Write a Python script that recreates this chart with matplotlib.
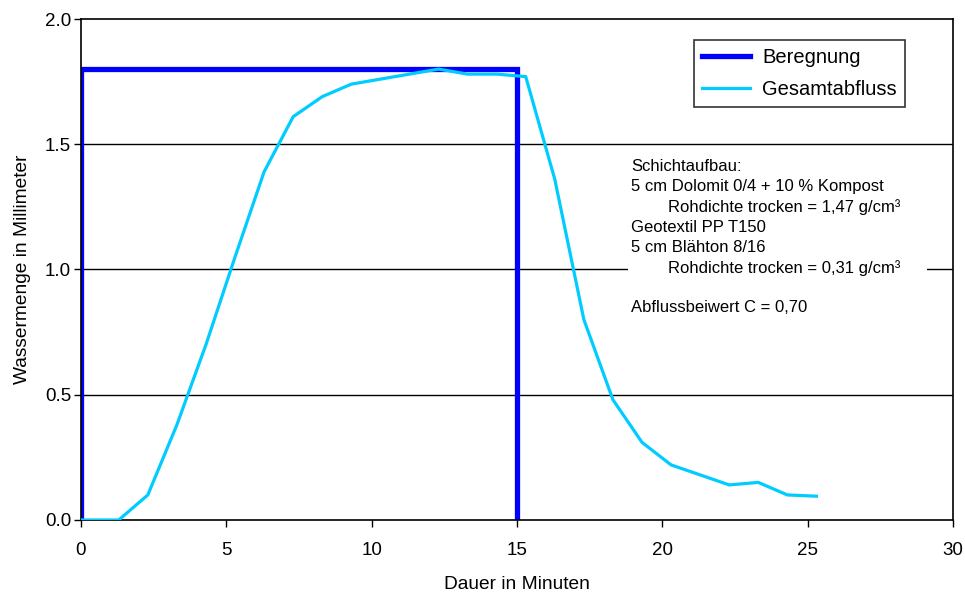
import matplotlib.pyplot as plt

plt.rcParams['font.family'] = ['Liberation Sans', 'DejaVu Sans']

# Beregnung (rain input), rectangular block
regen_t = [0, 0, 15, 15]
regen_mm = [0, 1.8, 1.8, 0]

# Gesamtabfluss (total runoff)
abfluss_t = [0, 1.3, 2.3, 3.3, 4.3, 5.3, 6.3, 7.3, 8.3, 9.3, 10.3, 11.3, 12.3,
             13.3, 14.3, 15.3, 16.3, 17.3, 18.3, 19.3, 20.3, 21.3, 22.3, 23.3,
             24.3, 25.3]
abfluss_mm = [0.0, 0.0, 0.10, 0.38, 0.70, 1.05, 1.39, 1.61, 1.69, 1.74, 1.76,
              1.78, 1.80, 1.78, 1.78, 1.77, 1.36, 0.80, 0.48, 0.31, 0.22, 0.18,
              0.14, 0.15, 0.10, 0.095]

info = ("Schichtaufbau:\n"
        "5 cm Dolomit 0/4 + 10 % Kompost\n"
        "        Rohdichte trocken = 1,47 g/cm³\n"
        "Geotextil PP T150\n"
        "5 cm Blähton 8/16\n"
        "        Rohdichte trocken = 0,31 g/cm³     \n"
        "\n"
        "Abflussbeiwert C = 0,70")

fs = 13.5

fig = plt.figure(figsize=(9.65, 5.94), dpi=100)
ax = fig.add_axes([0.0839, 0.1246, 0.9037, 0.8434])

for yv in [0.5, 1.0, 1.5]:
    ax.axhline(yv, color='black', lw=1.0, zorder=1)

ax.plot(abfluss_t, abfluss_mm, color='#00CCFF', lw=2.3, label='Gesamtabfluss',
        zorder=3, solid_joinstyle='miter')
ax.plot(regen_t, regen_mm, color='#0000FF', lw=3.8, label='Beregnung', zorder=2,
        solid_joinstyle='miter')

ax.set_xlim(0, 30)
ax.set_ylim(0, 2.0)
ax.set_xticks(range(0, 31, 5))
ax.set_yticks([0, 0.5, 1.0, 1.5, 2.0])
ax.set_yticklabels(['0.0', '0.5', '1.0', '1.5', '2.0'])
ax.tick_params(direction='out', length=5, width=1, labelsize=fs,
               colors='black')
ax.tick_params(axis='x', pad=11)
ax.tick_params(axis='y', pad=2)
for s in ax.spines.values():
    s.set_linewidth(1.2)

ax.set_xlabel('Dauer in Minuten', fontsize=13.8, labelpad=12)
ax.set_ylabel('Wassermenge in Millimeter', fontsize=13.8, labelpad=10)

handles, labels = ax.get_legend_handles_labels()
leg = ax.legend(handles[::-1], labels[::-1], loc='upper right',
                bbox_to_anchor=(0.945, 0.958), fontsize=14.5, frameon=True,
                fancybox=False, edgecolor='black', borderpad=0.4,
                handlelength=2.4, handletextpad=0.6, labelspacing=0.64,
                borderaxespad=0)
leg.get_frame().set_linewidth(1.2)

ax.text(18.93, 1.44, info, fontsize=12, va='top', ha='left',
        linespacing=1.4,
        bbox=dict(facecolor='white', edgecolor='none', pad=2), zorder=4)

fig.savefig('out.png', dpi=100)
